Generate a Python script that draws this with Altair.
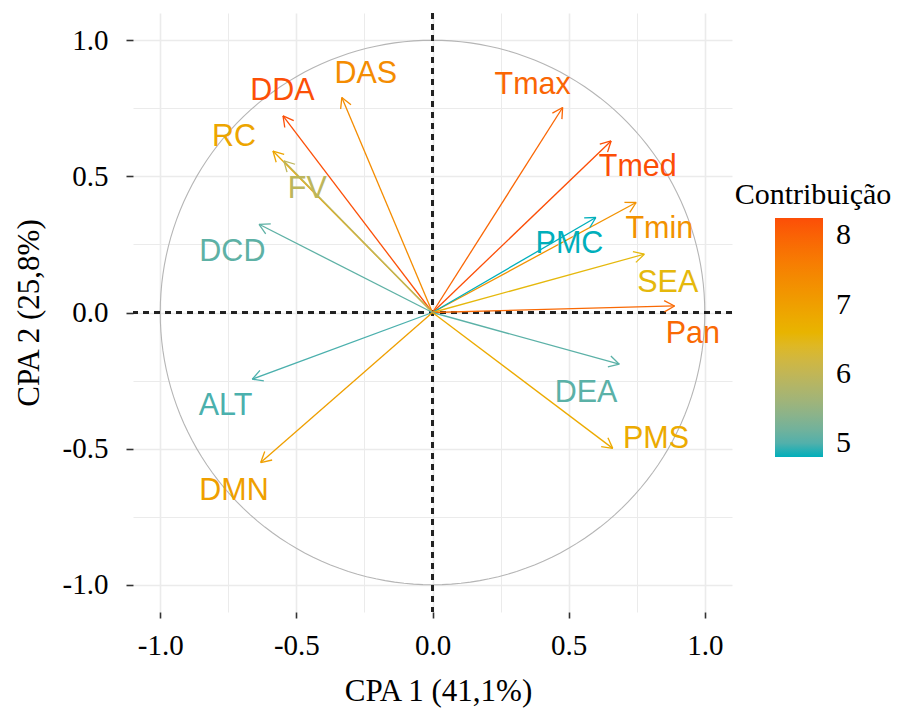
import altair as alt
import pandas as pd

# ---- data ----
names = ["DAS", "DDA", "RC", "FV", "DCD", "Tmax", "Tmed", "Tmin",
         "PMC", "SEA", "Pan", "DEA", "PMS", "ALT", "DMN"]
pc1 = [-0.333, -0.549, -0.586, -0.546, -0.637, 0.478, 0.656, 0.748,
       0.600, 0.778, 0.889, 0.686, 0.662, -0.662, -0.631]
pc2 = [0.790, 0.722, 0.593, 0.557, 0.324, 0.753, 0.630, 0.404,
       0.349, 0.214, 0.024, -0.190, -0.499, -0.245, -0.551]
contrib = [7.35, 8.24, 6.9, 5.95, 5.07, 7.95, 8.25, 7.25,
           4.8, 6.5, 7.9, 5.05, 6.8, 4.97, 7.0]
label_x = [-0.245, -0.551, -0.729, -0.46, -0.735, 0.368, 0.754, 0.833,
           0.503, 0.864, 0.956, 0.564, 0.821, -0.760, -0.729]
label_y = [0.875, 0.814, 0.643, 0.453, 0.224, 0.835, 0.533, 0.306,
           0.251, 0.110, -0.080, -0.294, -0.463, -0.345, -0.655]

tick_values = [-1.0, -0.75, -0.5, -0.25, 0.0, 0.25, 0.5, 0.75, 1.0]
legend_values = [5, 6, 7, 8]
gradient_colors = ["#00AFBB", "#E7B800", "#FC4E07"]

df = pd.DataFrame({"name": names, "pc1": pc1, "pc2": pc2, "contrib": contrib,
                   "lx": label_x, "ly": label_y})

SERIF = "Liberation Serif"
SANS = "Liberation Sans"

xs = alt.Scale(domain=[-1.1, 1.1], nice=False, zero=False)
ys = alt.Scale(domain=[-1.1, 1.1], nice=False, zero=False)
cdom = [min(contrib), max(contrib)]
cs = alt.Scale(domain=cdom, range=gradient_colors, interpolate="lab")
cs_text = alt.Scale(domain=cdom, range=gradient_colors, interpolate="lab")

major = "abs(datum.value*2 - round(datum.value*2)) < 0.000001"
lab_expr = (f"{major} ? ((datum.value < 0 ? '-' : '') + "
            "format(abs(datum.value), '.1f')) : ''")


def make_axis(title, tick_size, label_pad, title_pos, is_x):
    kw = dict(
        values=tick_values, labelExpr=lab_expr, title=title,
        grid=True, gridColor="#EBEBEB",
        gridWidth={"condition": {"test": major, "value": 1.6}, "value": 1.0},
        tickOpacity={"condition": {"test": major, "value": 1}, "value": 0},
        tickSize=tick_size, tickWidth=1.6, tickColor="#333333",
        domain=False, labelFont=SERIF, labelFontSize=29, labelColor="black",
        labelPadding=label_pad, labelOverlap=False, labelFlush=False,
        titleFont=SERIF, titleFontSize=31, titleFontWeight="normal",
        titleColor="black", titleBaseline="alphabetic",
    )
    if is_x:
        kw["titleY"] = title_pos
        kw["titleX"] = 305
    else:
        kw["titleX"] = title_pos
    return alt.Axis(**kw)


xaxis = make_axis("CPA 1 (41,1%)", 6, 13, 88, True)
yaxis = make_axis("CPA 2 (25,8%)", 7, 18, -95, False)

legend = alt.Legend(
    type="gradient",
    orient="none", legendX=602, legendY=167, direction="vertical",
    gradientLength=239, gradientThickness=48, gradientStrokeWidth=0,
    title="Contribuição", titleFont=SERIF, titleFontSize=30,
    titleFontWeight="normal", titleColor="black", titleAnchor="middle",
    titlePadding=8, labelFont=SERIF, labelFontSize=30, labelColor="black",
    labelOffset=13, values=legend_values, format="d", padding=0,
    labelOverlap=False,
)
color_leg = alt.Color("contrib:Q", scale=cs, legend=legend)

# unit circle
circle = alt.Chart(alt.sequence(0, 361, 2, as_="deg")).transform_calculate(
    cx="cos(datum.deg*PI/180)", cy="sin(datum.deg*PI/180)"
).mark_line(color="#B5B5B5", strokeWidth=1.1).encode(
    x=alt.X("cx:Q", scale=xs, axis=xaxis),
    y=alt.Y("cy:Q", scale=ys, axis=yaxis),
    order="deg:Q",
)

vline = alt.Chart(df).mark_rule(color="#222222", strokeWidth=2,
                                strokeDash=[6, 5]).encode(x=alt.XDatum(0))
hline = alt.Chart(df).mark_rule(color="#222222", strokeWidth=2,
                                strokeDash=[6, 5]).encode(y=alt.YDatum(0))

L = 0.043
A = 0.5
base = alt.Chart(df).transform_calculate(
    zero="0",
    ang="atan2(datum.pc2, datum.pc1)",
).transform_calculate(
    b1x=f"datum.pc1 - {L}*cos(datum.ang - {A})",
    b1y=f"datum.pc2 - {L}*sin(datum.ang - {A})",
    b2x=f"datum.pc1 - {L}*cos(datum.ang + {A})",
    b2y=f"datum.pc2 - {L}*sin(datum.ang + {A})",
)

shaft = base.mark_rule(strokeWidth=1.3).encode(
    x=alt.X("zero:Q", scale=xs, axis=xaxis),
    y=alt.Y("zero:Q", scale=ys, axis=yaxis),
    x2="pc1:Q", y2="pc2:Q", color=color_leg,
)
barb1 = base.mark_rule(strokeWidth=1.3).encode(
    x=alt.X("pc1:Q", scale=xs, axis=xaxis),
    y=alt.Y("pc2:Q", scale=ys, axis=yaxis),
    x2="b1x:Q", y2="b1y:Q", color=color_leg,
)
barb2 = base.mark_rule(strokeWidth=1.3).encode(
    x=alt.X("pc1:Q", scale=xs, axis=xaxis),
    y=alt.Y("pc2:Q", scale=ys, axis=yaxis),
    x2="b2x:Q", y2="b2y:Q", color=color_leg,
)

arrows = alt.layer(circle, vline, hline, shaft, barb1, barb2)

labels = alt.Chart(df).mark_text(font=SANS, fontSize=30.5, align="center",
                                 baseline="middle").encode(
    x=alt.X("lx:Q", scale=xs, axis=xaxis),
    y=alt.Y("ly:Q", scale=ys, axis=yaxis),
    text="name:N",
    color=alt.Color("contrib:Q", scale=cs_text, legend=None),
)

chart = alt.layer(arrows, labels).resolve_scale(
    color="independent"
).resolve_legend(color="independent").properties(
    width=599, height=599,
    padding={"left": 133, "top": 13, "right": 166, "bottom": 96},
    autosize=alt.AutoSizeParams(type="none"),
    background="white",
).configure_view(stroke=None)

chart.save("out.html", embed_options={"renderer": "svg", "actions": False})
